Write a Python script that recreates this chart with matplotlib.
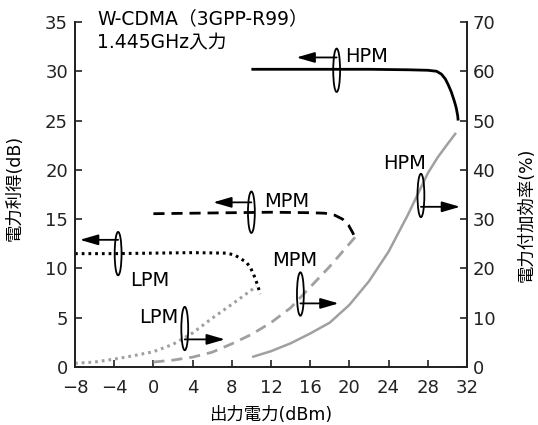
import matplotlib
matplotlib.use("Agg")
import matplotlib.pyplot as plt
from matplotlib.patches import Ellipse

plt.rcParams['font.family'] = ['DejaVu Sans', 'Noto Sans CJK JP']
plt.rcParams['axes.unicode_minus'] = True

# gain (dB), left axis
hpm_gain_x = [10, 14, 18, 22, 26, 28, 28.9, 29.4, 29.8, 30.1, 30.4, 30.7, 30.9, 31.05, 31.1]
hpm_gain = [30.2, 30.2, 30.2, 30.2, 30.15, 30.1, 30.0, 29.7, 29.2, 28.6, 27.9, 27.0, 26.3, 25.5, 25.0]
mpm_gain_x = [0, 4, 8, 12, 16, 17.5, 18.5, 19.3, 19.9, 20.3, 20.7]
mpm_gain = [15.55, 15.6, 15.65, 15.7, 15.65, 15.6, 15.4, 15.0, 14.4, 13.7, 12.9]
lpm_gain_x = [-8, -4, 0, 4, 7.5, 8.3, 8.9, 9.5, 9.9, 10.3, 10.6, 10.9]
lpm_gain = [11.5, 11.5, 11.55, 11.6, 11.55, 11.35, 11.0, 10.6, 10.1, 9.2, 8.4, 7.4]

# power added efficiency (%), right axis
hpm_eff_x = [10.2, 12, 14, 16, 18, 20, 22, 24, 26, 28, 29, 30, 30.8]
hpm_eff = [2.1, 3.2, 4.8, 6.8, 9.0, 12.6, 17.4, 23.4, 31.0, 39.3, 42.5, 45.2, 47.3]
mpm_eff_x = [0, 2, 4, 6, 8, 10, 12, 14, 16, 18, 20, 20.7]
mpm_eff = [1.0, 1.4, 2.0, 3.0, 4.7, 6.6, 9.0, 12.0, 16.2, 20.4, 25.0, 26.6]
lpm_eff_x = [-8, -6, -4, -2, 0, 2, 4, 6, 8, 10, 10.5]
lpm_eff = [0.75, 1.0, 1.6, 2.3, 3.1, 4.6, 6.9, 9.9, 12.7, 15.6, 16.4]

x_ticks = [-8, -4, 0, 4, 8, 12, 16, 20, 24, 28, 32]

fig = plt.figure(figsize=(5.38, 4.25), dpi=100)
ax = fig.add_axes([0.1394, 0.1365, 0.7286, 0.8118])
ax2 = ax.twinx()

gray = '#a0a0a0'
ax.plot(hpm_gain_x, hpm_gain, color='k', lw=2.0, solid_capstyle='butt')
ax.plot(mpm_gain_x, mpm_gain, color='k', lw=2.0, linestyle=(0, (4, 2.5)))
ax.plot(lpm_gain_x, lpm_gain, color='k', lw=2.2, linestyle=(0, (0.9, 1.3)))
ax2.plot(hpm_eff_x, hpm_eff, color=gray, lw=1.8)
ax2.plot(mpm_eff_x, mpm_eff, color=gray, lw=2.0, linestyle=(0, (4, 2.5)))
ax2.plot(lpm_eff_x, lpm_eff, color=gray, lw=2.2, linestyle=(0, (0.9, 1.3)))

ax.set_xlim(-8, 32)
ax.set_ylim(0, 35)
ax2.set_ylim(0, 70)
ax.set_xticks(x_ticks)
ax.set_yticks(range(0, 36, 5))
ax2.set_yticks(range(0, 71, 10))

for a in (ax, ax2):
    a.spines['top'].set_visible(False)
    for s in a.spines.values():
        s.set_linewidth(1.3)
        s.set_color('#222222')
    a.tick_params(direction='in', length=5, width=1.2, labelsize=13, colors='#222222')
ax.tick_params(axis='x', pad=9)
ax.tick_params(axis='y', pad=5)
ax2.tick_params(axis='y', pad=4)

ax.set_xlabel('出力電力(dBm)', fontsize=12.5)
ax.set_ylabel('電力利得(dB)', fontsize=12.5)
ax2.set_ylabel('電力付加効率(%)', fontsize=12.5)
ax.xaxis.set_label_coords(0.5, -0.112)
ax.yaxis.set_label_coords(-0.13, 0.52)
ax2.yaxis.set_label_coords(1.13, 0.44)

ax.text(-5.75, 35.3, 'W-CDMA（3GPP-R99）', fontsize=13.5, va='center', ha='left')
ax.text(-5.75, 32.9, '1.445GHz入力', fontsize=13.5, va='center', ha='left')


def marker(a, cx, cy, h, ay, tx, label, lx, ly, ha):
    a.add_patch(Ellipse((cx, cy), 0.7, h, fill=False, ec='k', lw=1.3, zorder=5))
    a.annotate('', xy=(tx, ay), xytext=(cx, ay),
               arrowprops=dict(arrowstyle='-|>,head_length=1.1,head_width=0.32',
                               color='k', lw=1.3, shrinkA=0, shrinkB=0))
    a.text(lx, ly, label, fontsize=14, ha=ha, va='center')


marker(ax, 18.7, 30.1, 4.4, 31.4, 14.6, 'HPM', 19.6, 31.5, 'left')
marker(ax, 10.0, 15.7, 4.2, 16.7, 6.1, 'MPM', 11.3, 16.8, 'left')
marker(ax, -3.6, 11.5, 4.4, 12.9, -7.5, 'LPM', -2.4, 8.8, 'left')
marker(ax2, 27.3, 34.8, 8.8, 32.5, 31.3, 'HPM', 25.6, 41.3, 'center')
marker(ax2, 15.0, 14.8, 8.8, 12.9, 18.9, 'MPM', 14.4, 21.7, 'center')
marker(ax2, 3.2, 7.8, 8.8, 5.6, 7.3, 'LPM', 2.6, 10.0, 'right')

fig.savefig('out.png', dpi=100)
